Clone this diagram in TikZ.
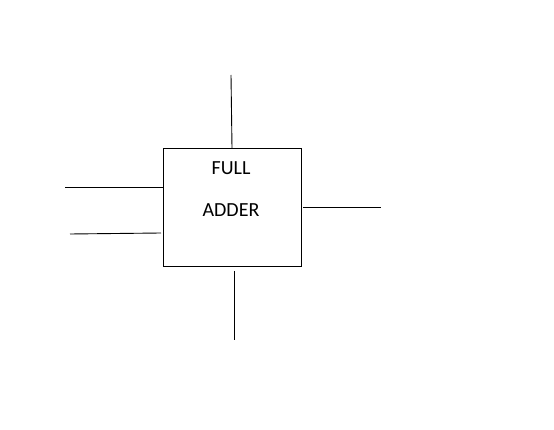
\documentclass[tikz,border=0pt]{standalone}
\usepackage{fontspec}
\setmainfont{Carlito}
\begin{document}
\begin{tikzpicture}[x=1pt,y=-1pt,
  wire/.style={draw=black,line width=0.9pt},
  lbl/.style={font=\fontsize{20}{24}\selectfont,inner sep=0pt,anchor=base}]
\useasboundingbox (0,0) rectangle (554,430);
\fill[white] (0,0) rectangle (554,430);
\node[draw=black,line width=0.9pt,minimum width=138pt,minimum height=118pt,inner sep=0pt] (fa) at (232.5,207) {};
\node[lbl] (t1) at (231,175) {FULL};
\node[lbl] (t2) at (231,217) {ADDER};
\coordinate (topA) at (231,75);
\coordinate (topB) at (232,148);
\coordinate (l1A) at (65,187);
\coordinate (l1B) at (163,187);
\coordinate (l2A) at (70,234);
\coordinate (l2B) at (161,233);
\coordinate (rA) at (303,207);
\coordinate (rB) at (381,207);
\coordinate (bA) at (234,271);
\coordinate (bB) at (234,340);
\draw[wire] (topA) -- (topB);
\draw[wire] (l1A) -- (l1B);
\draw[wire] (l2A) -- (l2B);
\draw[wire] (rA) -- (rB);
\draw[wire] (bA) -- (bB);
\end{tikzpicture}
\end{document}
